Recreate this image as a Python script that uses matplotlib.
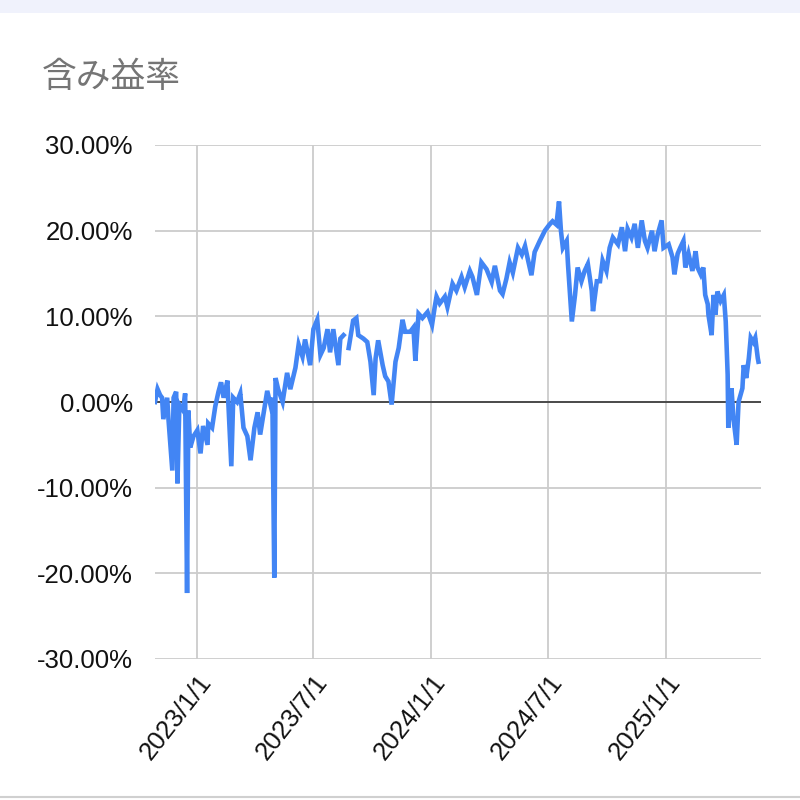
import numpy as np
import pandas as pd
import matplotlib
matplotlib.use("Agg")
import matplotlib.pyplot as plt
import matplotlib.dates as mdates
from matplotlib.ticker import FuncFormatter

# --- data ---
dates = [
    "2022-10-27", "2022-10-31", "2022-11-04", "2022-11-07", "2022-11-09", "2022-11-15",
    "2022-11-17", "2022-11-23", "2022-11-25", "2022-11-29", "2022-12-01", "2022-12-04",
    "2022-12-10", "2022-12-13", "2022-12-16", "2022-12-18", "2022-12-21", "2022-12-26",
    "2023-01-01", "2023-01-06", "2023-01-10", "2023-01-17", "2023-01-18", "2023-01-24",
    "2023-01-29", "2023-02-03", "2023-02-07", "2023-02-11", "2023-02-17", "2023-02-18",
    "2023-02-23", "2023-02-26", "2023-03-04", "2023-03-09", "2023-03-14", "2023-03-20",
    "2023-03-25", "2023-03-31", "2023-04-05", "2023-04-09", "2023-04-14", "2023-04-20",
    "2023-04-25", "2023-04-28", "2023-05-01", "2023-05-03", "2023-05-07", "2023-05-14",
    "2023-05-21", "2023-05-26", "2023-06-03", "2023-06-08", "2023-06-14", "2023-06-18",
    "2023-06-26", "2023-07-01", "2023-07-07", "2023-07-12", "2023-07-17", "2023-07-23",
    "2023-07-27", "2023-08-01", "2023-08-09", "2023-08-12", "2023-08-17", "2023-08-20",
    "2023-08-25", "2023-09-01", "2023-09-06", "2023-09-09", "2023-09-17", "2023-09-23",
    "2023-09-28", "2023-10-03", "2023-10-06", "2023-10-10", "2023-10-17", "2023-10-21",
    "2023-10-26", "2023-10-31", "2023-11-06", "2023-11-11", "2023-11-17", "2023-11-21",
    "2023-11-29", "2023-12-04", "2023-12-07", "2023-12-12", "2023-12-18", "2023-12-26",
    "2024-01-02", "2024-01-06", "2024-01-09", "2024-01-14", "2024-01-22", "2024-01-26",
    "2024-02-03", "2024-02-09", "2024-02-17", "2024-02-22", "2024-03-01", "2024-03-05",
    "2024-03-12", "2024-03-19", "2024-03-27",
    "2024-04-04", "2024-04-09", "2024-04-17", "2024-04-21", "2024-04-27", "2024-05-02",
    "2024-05-07", "2024-05-15", "2024-05-21", "2024-05-26", "2024-05-30", "2024-06-05",
    "2024-06-10", "2024-06-18", "2024-06-26", "2024-07-03", "2024-07-08", "2024-07-14",
    "2024-07-18", "2024-07-21", "2024-07-24", "2024-07-30", "2024-08-01", "2024-08-07",
    "2024-08-12", "2024-08-16", "2024-08-22", "2024-08-27", "2024-09-01", "2024-09-07",
    "2024-09-09", "2024-09-15", "2024-09-20", "2024-09-24", "2024-09-30", "2024-10-05",
    "2024-10-10", "2024-10-18", "2024-10-24", "2024-10-29", "2024-11-02", "2024-11-08",
    "2024-11-13", "2024-11-18", "2024-11-24", "2024-11-29", "2024-12-03", "2024-12-10",
    "2024-12-14", "2024-12-19", "2024-12-25", "2024-12-28", "2025-01-05", "2025-01-11",
    "2025-01-14", "2025-01-19", "2025-01-23", "2025-01-28", "2025-01-31", "2025-02-05",
    "2025-02-11", "2025-02-16", "2025-02-19", "2025-02-24", "2025-02-28", "2025-03-03",
    "2025-03-07", "2025-03-08", "2025-03-13", "2025-03-16", "2025-03-19", "2025-03-22",
    "2025-03-27", "2025-04-01", "2025-04-04", "2025-04-07", "2025-04-08", "2025-04-13",
    "2025-04-16", "2025-04-21", "2025-04-24", "2025-04-30", "2025-05-02", "2025-05-06",
    "2025-05-10", "2025-05-13", "2025-05-17", "2025-05-20", "2025-05-24", "2025-05-25",
]

# 含み益率 in percent (nan = missing data, the line breaks there)
rate = [
    0.0, 1.5, 0.8, 0.5, -2.0, 0.5,
    -2.0, -8.0, 0.5, 1.2, -9.5, -0.3,
    -1.0, 1.0, -22.3, -1.0, -5.3, -4.0,
    -3.3, -6.0, -2.8, -5.0, -2.5, -3.0,
    -0.5, 1.2, 2.3, 0.5, 2.5, 0.5,
    -7.5, 0.5, 0.0, 1.0, -3.0, -4.0,
    -6.8, -3.0, -1.2, -3.8, -1.5, 1.3,
    -0.3, 0.5, -20.5, 2.8, 1.5, 0.0,
    3.4, 1.5, 4.0, 6.7, 5.3, 7.3,
    4.3, 8.5, 9.6, 5.5, 6.3, 8.5,
    5.8, 8.5, 4.3, 7.4, 7.8, np.nan,
    6.3, 9.5, 9.8, 7.8, 7.4, 7.0,
    4.7, 0.8, 5.1, 7.2, 4.3, 3.0,
    2.4, -0.3, 4.7, 6.3, 9.6, 8.2,
    8.2, 8.7, 4.8, 10.3, 9.8, 10.5,
    9.0, 11.0, 12.3, 11.5, 12.3, 11.1,
    13.8, 13.0, 14.6, 13.4, 15.3, 14.6,
    12.5, 16.3, 15.5,
    14.0, 15.9, 13.0, 12.6, 14.4, 16.3,
    15.1, 18.0, 17.2, 18.2, 16.8, 14.8,
    17.5, 18.8, 20.0, 20.7, 21.1, 20.7,
    23.4, 20.0, 18.0, 18.8, 16.1, 9.4,
    12.5, 15.7, 14.1, 15.3, 16.1, 13.0,
    10.6, 14.1, 14.1, 16.5, 15.3, 18.0,
    19.2, 18.4, 20.4, 17.6, 20.2, 19.2,
    20.8, 18.0, 21.2, 18.8, 18.0, 20.0,
    17.6, 19.6, 21.2, 18.0, 18.4, 16.9,
    14.9, 17.3, 18.0, 18.8, 15.7, 17.3,
    15.3, 17.6, 15.7, 14.9, 15.7, 12.5,
    11.4, 10.2, 7.8, 12.5, 10.2, 12.9,
    11.8, 12.5, 9.4, 3.2, -3.0, 1.6,
    -1.9, -5.0, 0.0, 1.6, 4.3, 2.8,
    5.1, 7.5, 7.0, 7.5, 5.1, 4.7,
]

title = "含み益率"
y_ticks = [-30, -20, -10, 0, 10, 20, 30]
x_ticks = ["2023-01-01", "2023-07-01", "2024-01-01", "2024-07-01", "2025-01-01"]

df = pd.DataFrame({"date": pd.to_datetime(dates), "rate": rate})

# --- figure ---
fig = plt.figure(figsize=(8, 8), dpi=100)
fig.patch.set_facecolor("white")

# light band on top + thin gray line at the bottom (screenshot frame)
fig.add_artist(plt.Rectangle((0, 1 - 13 / 800), 1, 13 / 800, transform=fig.transFigure,
                             facecolor="#f0f2fc", edgecolor="none"))
fig.add_artist(plt.Line2D([0, 1], [1 - 797 / 800] * 2, transform=fig.transFigure,
                          color="#d0d0d0", linewidth=1.5))

ax = fig.add_axes([155 / 800, 1 - 659 / 800, 606 / 800, 514 / 800])

ax.plot(df["date"], df["rate"], color="#4285f4", linewidth=3.3,
        solid_joinstyle="miter", zorder=3)
ax.axhline(0, color="#333333", linewidth=1.2, zorder=2)

ax.set_ylim(-30, 30)
ax.set_yticks(y_ticks)
ax.yaxis.set_major_formatter(FuncFormatter(lambda v, p: f"{v:.2f}%"))
ax.set_xlim(pd.Timestamp("2022-10-27"), pd.Timestamp("2025-05-29"))
ax.set_xticks(pd.to_datetime(x_ticks))
ax.xaxis.set_major_formatter(mdates.DateFormatter("%Y/%-m/%-d"))

ax.grid(True, color="#cccccc", linewidth=1.3, zorder=1)
for s in ax.spines.values():
    s.set_visible(False)
ax.tick_params(length=0, labelsize=18.5, labelcolor="#111111")
ax.tick_params(axis="y", pad=16)
ax.tick_params(axis="x", pad=8)
for lab in ax.get_yticklabels():
    lab.set_fontfamily("Liberation Sans")
for lab in ax.get_xticklabels():
    lab.set_fontfamily("Liberation Sans")
    lab.set_rotation(52)
    lab.set_ha("right")
    lab.set_va("top")
    lab.set_rotation_mode("anchor")

fig.text(42 / 800, 1 - 77 / 800, title, fontsize=25, color="#757575",
         family=["Noto Sans CJK JP", "DejaVu Sans"], va="center", ha="left")

plt.savefig("out.png", dpi=100)
